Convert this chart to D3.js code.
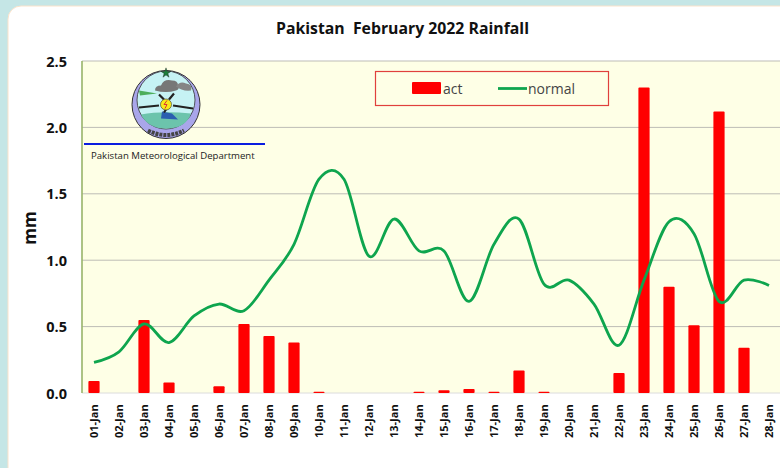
<!DOCTYPE html>
<html><head><meta charset="utf-8">
<script src="https://cdn.jsdelivr.net/npm/d3@7/dist/d3.min.js"></script>
<style>html,body{margin:0;padding:0;background:#c5e6e6;overflow:hidden}svg{display:block}text{font-family:"Open Sans",sans-serif}</style>
</head><body><svg id="c" width="780" height="468"></svg>
<script>
const days=["01-Jan","02-Jan","03-Jan","04-Jan","05-Jan","06-Jan","07-Jan","08-Jan","09-Jan","10-Jan","11-Jan","12-Jan","13-Jan","14-Jan","15-Jan","16-Jan","17-Jan","18-Jan","19-Jan","20-Jan","21-Jan","22-Jan","23-Jan","24-Jan","25-Jan","26-Jan","27-Jan","28-Jan"];
const act=[0.09,0,0.55,0.08,0,0.05,0.52,0.43,0.38,0.01,0,0,0,0.01,0.02,0.03,0.01,0.17,0.01,0,0,0.15,2.30,0.80,0.51,2.12,0.34,0];
const normal=[0.23,0.31,0.52,0.38,0.58,0.67,0.62,0.85,1.12,1.61,1.61,1.03,1.31,1.07,1.07,0.69,1.12,1.31,0.82,0.85,0.67,0.36,0.85,1.29,1.20,0.69,0.85,0.81];
const yTicks=[0,0.5,1,1.5,2,2.5];
const svg=d3.select("#c");
svg.append("rect").attr("x",8).attr("y",6).attr("width",800).attr("height",490).attr("rx",13).attr("fill","#fff").attr("stroke","#fbe3cc").attr("stroke-width",1);
const x=d3.scaleBand().domain(days).range([81.5,781.5]);
const y=d3.scaleLinear().domain([0,2.5]).range([393,61]);
svg.append("rect").attr("x",82).attr("y",61).attr("width",700).attr("height",332).attr("fill","#feffe6");
svg.append("g").selectAll("line").data(yTicks).join("line").attr("x1",82).attr("x2",782)
 .attr("y1",d=>y(d)).attr("y2",d=>y(d)).attr("stroke",d=>d===0?"#dcdcdc":"#bdbdb6").attr("stroke-width",1);
svg.append("line").attr("x1",82).attr("x2",82).attr("y1",61).attr("y2",393).attr("stroke","#98b46a").attr("stroke-width",1.6);
svg.append("g").selectAll("text").data(yTicks).join("text").attr("x",67).attr("y",d=>y(d)+5.5).attr("text-anchor","end")
 .attr("font-size",14.5).attr("font-weight",700).attr("fill","#111").text(d=>d.toFixed(1));
svg.append("g").selectAll("text").data(days).join("text")
 .attr("transform",d=>`translate(${x(d)+x.bandwidth()/2+4},438) rotate(-90)`)
 .attr("font-size",11).attr("font-weight",700).attr("fill","#111").text(d=>d);
svg.append("g").selectAll("rect").data(days).join("rect").filter((d,i)=>act[i]>0)
 .attr("x",d=>x(d)+x.bandwidth()/2-5.6).attr("width",11.2)
 .attr("y",d=>y(act[days.indexOf(d)])).attr("height",d=>y(0)-y(act[days.indexOf(d)])).attr("rx",1).attr("fill","#ff0000");
const line=d3.line().x((d,i)=>x(days[i])+x.bandwidth()/2).y(d=>y(d)).curve(d3.curveCardinal.tension(0));
svg.append("path").attr("d",line(normal)).attr("fill","none").attr("stroke","#0ea54e").attr("stroke-width",2.8);
svg.append("text").attr("x",402.5).attr("y",34).attr("text-anchor","middle").attr("font-size",15.8).attr("font-weight",700).attr("fill","#111").attr("xml:space","preserve").text("Pakistan  February 2022 Rainfall");
svg.append("text").attr("transform","translate(36,228) rotate(-90)").attr("text-anchor","middle").attr("font-size",17).attr("font-weight",700).attr("fill","#111").text("mm");
// legend
svg.append("rect").attr("x",375.5).attr("y",71.5).attr("width",233).attr("height",34).attr("fill","none").attr("stroke","#e0403c").attr("stroke-width",1.2);
svg.append("rect").attr("x",412).attr("y",82).attr("width",29).attr("height",12).attr("rx",1).attr("fill","#ff0000");
svg.append("text").attr("x",443).attr("y",94).attr("font-size",14).attr("fill","#444").text("act");
svg.append("line").attr("x1",498).attr("x2",527).attr("y1",88.5).attr("y2",88.5).attr("stroke","#0ea54e").attr("stroke-width",2.8);
svg.append("text").attr("x",528).attr("y",94).attr("font-size",14).attr("fill","#444").text("normal");
// department logo
const g=svg.append("g").attr("transform","translate(166,104.5)");
g.append("circle").attr("r",34).attr("fill","#a9a6ea").attr("stroke","#333").attr("stroke-width",1);
g.append("circle").attr("cy",-4.5).attr("r",29).attr("fill","#c6f2f4").attr("stroke","#333").attr("stroke-width",.8);
g.append("path").attr("d","M-25,10 Q-4,6 25,9 Q20,24 0,24 Q-18,24 -25,10Z").attr("fill","#6cc4ac");
g.append("path").attr("d","M-5,14 L-4,7 L6,9 L12,15 Z").attr("fill","#2a5fb0");
g.append("path").attr("d","M-11,-14 q0,-5 6,-5 q3,-7 11,-5 q6,0 6,5 q2,4 -2,5 q-10,3 -21,0Z").attr("fill","#777");
g.append("path").attr("d","M10,-18 q4,-6 10,-3 q7,1 5,7 q-9,1 -15,-4Z").attr("fill","#858585");
g.append("path").attr("d","M-27,-14 L-9,-11 L-26,-9Z").attr("fill","#4cae5c");
g.append("path").attr("d","M-27,3 L-7,1 M7,1 L27,4 M-7,-10 L-2,-5 M8,-11 L3,-5 M-2,8 L0,5").attr("stroke","#222").attr("stroke-width",2.2).attr("fill","none");
g.append("path").attr("d","M-18,26 Q0,35 18,26").attr("stroke","#444").attr("stroke-width",4).attr("stroke-dasharray","3 1").attr("fill","none");
g.append("circle").attr("r",5.5).attr("fill","#f7ea1a").attr("stroke","#333").attr("stroke-width",.6);
g.append("path").attr("d","M1,-4 L-2,0 L1,0 L-1,4").attr("stroke","#d33").attr("stroke-width",1).attr("fill","none");
g.append("path").attr("d",d3.symbol().type(d3.symbolStar).size(30)()).attr("transform","translate(0,-31.5)").attr("fill","#1c7d3a").attr("stroke","#222").attr("stroke-width",.4);
svg.append("line").attr("x1",84).attr("x2",265).attr("y1",144).attr("y2",144).attr("stroke","#0a1de0").attr("stroke-width",2.2);
svg.append("text").attr("x",91).attr("y",159).attr("font-size",9.6).attr("fill","#222").text("Pakistan Meteorological Department");
</script></body></html>
